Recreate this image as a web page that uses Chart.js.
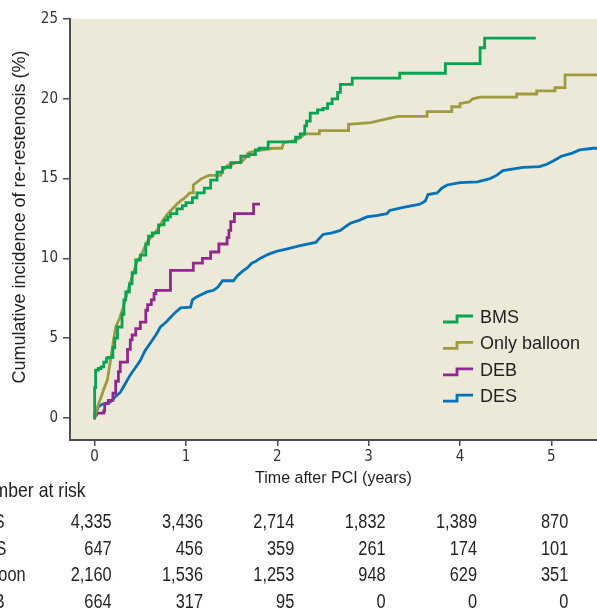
<!DOCTYPE html>
<html>
<head>
<meta charset="utf-8">
<script src="https://cdn.jsdelivr.net/npm/chart.js@4.4.0/dist/chart.umd.min.js"></script>
<style>
  html, body { margin: 0; padding: 0; background: #fff; }
  #wrap { position: relative; width: 597px; height: 613px; }
</style>
</head>
<body>
<div id="wrap"><canvas id="myChart" width="597" height="613"></canvas></div>
<script>
// cumulative incidence curves: [years, %]
// BMS and DEB are drawn as step functions, balloon and DES as joined points
var bmsData = [[0,0],[0.01,1.9],[0.04,3.0],[0.07,3.1],[0.1,3.2],[0.13,3.5],[0.15,3.75],[0.2,3.8],[0.22,4.4],[0.25,5.0],[0.3,5.7],[0.32,6.5],[0.34,7.4],[0.38,7.9],[0.41,8.4],[0.45,9.1],[0.5,9.9],[0.56,10.2],[0.59,10.9],[0.63,11.4],[0.7,11.6],[0.76,12.1],[0.8,12.4],[0.83,12.6],[0.9,12.8],[0.96,13.1],[1.0,13.3],[1.07,13.5],[1.12,13.8],[1.2,14.1],[1.27,14.4],[1.34,14.9],[1.4,15.4],[1.49,15.7],[1.6,16.0],[1.69,16.4],[1.76,16.5],[1.8,16.8],[1.9,16.9],[2.2,17.3],[2.25,17.6],[2.3,17.8],[2.32,18.3],[2.36,18.6],[2.44,19.1],[2.5,19.3],[2.55,19.4],[2.6,19.7],[2.66,20.0],[2.69,20.4],[2.82,20.9],[3.34,21.3],[3.84,21.6],[4.22,22.2],[4.27,23.2],[4.83,23.8]];
var balloonData = [[0,0],[0.02,0.5],[0.07,1.3],[0.1,1.8],[0.14,2.4],[0.17,3.5],[0.2,4.6],[0.23,5.7],[0.27,6.2],[0.31,6.9],[0.35,7.7],[0.39,8.5],[0.43,9.2],[0.47,9.9],[0.5,10.1],[0.54,10.6],[0.58,11.1],[0.63,11.4],[0.66,11.6],[0.7,11.9],[0.75,12.4],[0.8,12.8],[0.85,13.1],[0.9,13.4],[0.94,13.6],[0.99,13.8],[1.04,14.1],[1.08,14.1],[1.08,14.6],[1.17,15.0],[1.25,15.2],[1.38,15.2],[1.4,15.5],[1.45,15.8],[1.55,16.0],[1.6,16.0],[1.65,16.3],[1.68,16.6],[1.78,16.75],[1.96,16.9],[2.05,16.9],[2.07,17.25],[2.2,17.4],[2.26,17.6],[2.3,17.8],[2.46,17.8],[2.46,18.0],[2.78,18.0],[2.78,18.4],[3.02,18.5],[3.32,18.9],[3.64,18.9],[3.64,19.2],[3.91,19.2],[3.91,19.5],[4.0,19.5],[4.0,19.7],[4.1,19.8],[4.14,20.0],[4.22,20.1],[4.62,20.1],[4.62,20.3],[4.84,20.3],[4.84,20.5],[5.04,20.5],[5.04,20.7],[5.15,20.7],[5.15,21.5],[5.5,21.5]];
var debData = [[0,-0.1],[0.02,0.2],[0.1,0.3],[0.11,0.45],[0.15,0.9],[0.2,1.1],[0.23,1.55],[0.26,2.3],[0.28,2.9],[0.36,3.5],[0.39,4.3],[0.41,4.9],[0.45,5.2],[0.5,5.6],[0.56,6.0],[0.58,6.75],[0.62,7.1],[0.65,7.4],[0.67,7.8],[0.83,8.0],[1.08,9.25],[1.18,9.7],[1.27,10.0],[1.36,10.4],[1.45,10.9],[1.47,11.3],[1.49,11.75],[1.53,12.3],[1.74,12.8],[1.81,13.4]];
var desData = [[0,0],[0.02,0.4],[0.04,0.7],[0.08,0.85],[0.17,1.0],[0.22,1.3],[0.28,1.6],[0.33,2.1],[0.39,2.7],[0.44,3.1],[0.5,3.6],[0.55,4.2],[0.61,4.7],[0.67,5.2],[0.72,5.7],[0.78,6.0],[0.83,6.3],[0.88,6.6],[0.94,6.9],[1.05,6.95],[1.07,7.4],[1.12,7.6],[1.16,7.7],[1.23,7.9],[1.3,8.0],[1.35,8.2],[1.4,8.6],[1.52,8.6],[1.56,8.9],[1.62,9.2],[1.67,9.4],[1.72,9.7],[1.76,9.8],[1.81,10.0],[1.88,10.2],[1.92,10.3],[2.0,10.45],[2.11,10.6],[2.25,10.8],[2.42,11.0],[2.5,11.5],[2.6,11.6],[2.69,11.75],[2.75,12.0],[2.8,12.2],[2.9,12.4],[2.98,12.6],[3.1,12.7],[3.2,12.8],[3.23,13.0],[3.38,13.2],[3.56,13.4],[3.62,13.6],[3.65,14.0],[3.75,14.1],[3.8,14.4],[3.86,14.6],[4.0,14.75],[4.19,14.8],[4.33,15.0],[4.4,15.2],[4.47,15.5],[4.69,15.7],[4.87,15.75],[4.95,15.9],[5.02,16.1],[5.11,16.4],[5.23,16.6],[5.31,16.8],[5.46,16.9],[5.5,16.9]];

var seriesLabels = ["BMS", "Only balloon", "DEB", "DES"];
var seriesColors = ["#00a651", "#9e9a3e", "#93278f", "#0072bc"];
var seriesStepped = ['after', false, 'after', false];

var yTicks = [0, 5, 10, 15, 20, 25];
var xTicks = [0, 1, 2, 3, 4, 5];

// number at risk table
var riskTimes = [0, 1, 2, 3, 4, 5];
var riskRows = ["DES", "BMS", "Balloon", "DEB"];
var riskDES = [4335, 3436, 2714, 1832, 1389, 870];
var riskBMS = [647, 456, 359, 261, 174, 101];
var riskBalloon = [2160, 1536, 1253, 948, 629, 351];
var riskDEB = [664, 317, 95, 0, 0, 0];

var narrow = "'Liberation Sans Narrow', 'DejaVu Sans Condensed', 'Arial Narrow', sans-serif";
var sans = "'Liberation Sans', Arial, sans-serif";
var textColor = '#231f20';

function toXY(arr) {
    return arr.map(function (p) { return { x: p[0], y: p[1] }; });
}

// squeeze text horizontally to get the condensed look of the original
function narrowText(ctx, str, x, y, sx) {
    ctx.save();
    ctx.scale(sx, 1);
    ctx.fillText(str, x / sx, y);
    ctx.restore();
}

var extrasPlugin = {
    id: 'extras',
    beforeDraw: function (chart) {
        var ctx = chart.ctx, a = chart.chartArea;
        ctx.save();
        ctx.fillStyle = '#ede9d8';
        ctx.fillRect(a.left, a.top, a.right - a.left, a.bottom - a.top);
        ctx.restore();
    },
    afterDraw: function (chart) {
        var ctx = chart.ctx, a = chart.chartArea;
        var xs = chart.scales.x;
        ctx.save();

        // y axis title
        ctx.fillStyle = textColor;
        ctx.font = '18px ' + sans;
        ctx.textAlign = 'center';
        ctx.textBaseline = 'alphabetic';
        ctx.translate(25, 217);
        ctx.rotate(-Math.PI / 2);
        ctx.fillText('Cumulative incidence of re-restenosis (%)', 0, 0);
        ctx.setTransform(1, 0, 0, 1, 0, 0);

        // legend with step icons
        ctx.font = '18px ' + sans;
        ctx.textAlign = 'left';
        ctx.textBaseline = 'middle';
        chart.data.datasets.forEach(function (ds, i) {
            var cy = 317 + i * 26.4;
            var x0 = a.left + 373;
            ctx.strokeStyle = ds.borderColor;
            ctx.lineWidth = 2.8;
            ctx.beginPath();
            ctx.moveTo(x0, cy + 5);
            ctx.lineTo(x0 + 14, cy + 5);
            ctx.lineTo(x0 + 14, cy - 1);
            ctx.lineTo(x0 + 30, cy - 1);
            ctx.stroke();
            ctx.fillStyle = textColor;
            ctx.fillText(ds.label, x0 + 37, cy + 1);
        });

        // number at risk
        var sx = 0.84;
        ctx.fillStyle = textColor;
        ctx.textBaseline = 'alphabetic';
        ctx.textAlign = 'left';
        ctx.font = '21px ' + sans;
        narrowText(ctx, 'Number at risk', -29, 497, sx);
        ctx.font = '19.5px ' + sans;
        var rows = [riskDES, riskBMS, riskBalloon, riskDEB];
        rows.forEach(function (vals, r) {
            var by = 528 + r * 26.6;
            ctx.textAlign = 'left';
            narrowText(ctx, riskRows[r], -29, by, sx);
            ctx.textAlign = 'right';
            vals.forEach(function (v, c) {
                var px = xs.getPixelForValue(riskTimes[c]) + 17;
                narrowText(ctx, v.toLocaleString('en-US'), px, by, sx);
            });
        });
        ctx.restore();
    }
};

var datasets = [bmsData, balloonData, debData, desData].map(function (d, i) {
    return {
        label: seriesLabels[i],
        data: toXY(d),
        borderColor: seriesColors[i],
        backgroundColor: seriesColors[i],
        borderWidth: 2.8,
        pointRadius: 0,
        tension: 0,
        stepped: seriesStepped[i],
        fill: false
    };
});

var myChart = document.getElementById('myChart').getContext('2d');
var chart = new Chart(myChart, {
    type: 'line',
    data: { datasets: datasets },
    options: {
        responsive: false,
        animation: false,
        devicePixelRatio: 1,
        layout: { padding: { top: 19, left: 0, right: 0, bottom: 121 } },
        plugins: { legend: { display: false }, tooltip: { enabled: false } },
        scales: {
            x: {
                type: 'linear',
                min: -0.27,
                max: 5.5,
                afterBuildTicks: function (scale) {
                    scale.ticks = xTicks.map(function (v) { return { value: v }; });
                },
                afterFit: function (scale) {
                    scale.height = 52;
                    scale.paddingLeft = 0;
                    scale.paddingRight = 0;
                },
                border: { display: true, color: '#4d4d4d', width: 2 },
                grid: { drawOnChartArea: false, drawTicks: true, tickLength: 6, color: '#4d4d4d', lineWidth: 1.5 },
                ticks: { color: '#333', font: { family: narrow, size: 15 }, padding: 2, maxRotation: 0 },
                title: { display: true, text: 'Time after PCI (years)', color: textColor, font: { family: sans, size: 16 }, padding: { top: 0, bottom: 4 } }
            },
            y: {
                type: 'linear',
                min: -1.38,
                max: 25,
                afterBuildTicks: function (scale) {
                    scale.ticks = yTicks.map(function (v) { return { value: v }; });
                },
                afterFit: function (scale) {
                    scale.width = 70;
                    scale.paddingTop = 0;
                    scale.paddingBottom = 0;
                },
                border: { display: true, color: '#4d4d4d', width: 2 },
                grid: { drawOnChartArea: false, drawTicks: true, tickLength: 7, color: '#4d4d4d', lineWidth: 1.5 },
                ticks: { color: '#333', font: { family: narrow, size: 15 }, padding: 5 }
            }
        }
    },
    plugins: [extrasPlugin]
});
</script>
</body>
</html>
